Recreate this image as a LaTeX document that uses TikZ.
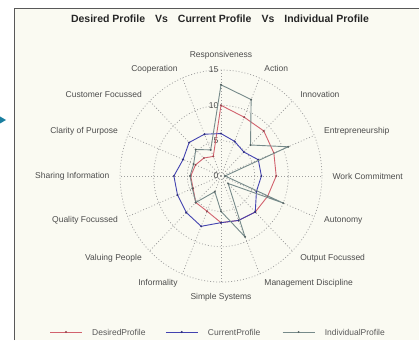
\documentclass[tikz,border=0pt]{standalone}
\usepackage{fontspec}
\setmainfont{Liberation Sans}
\usetikzlibrary{positioning}
\definecolor{paper}{RGB}{250,250,242}
\definecolor{desiredc}{RGB}{210,98,110}
\definecolor{currentc}{RGB}{66,66,176}
\definecolor{individualc}{RGB}{118,138,138}
\definecolor{pointer}{RGB}{27,127,160}
\newcommand{\radarprofile}[3]{%
  \draw[draw=#1, line width=0.9pt] (90:#2) \foreach \v [count=\i] in {#3} { -- ({90-22.5*\i}:\v)} -- cycle;
  \foreach \v [count=\i from 0] in {#2,#3} \fill[#1!70!black] ({90-22.5*\i}:\v) circle (1.1pt);
}

\begin{document}
\begin{tikzpicture}[x=1pt, y=1pt,
    grid/.style={black!38, line width=0.75pt, dash pattern=on 0.9pt off 2.1pt},
    axislabel/.style={text=black!70, font=\fontsize{8.5}{10}\selectfont, inner sep=1pt},
    legend/.style={text=black!65, font=\fontsize{8.5}{10}\selectfont, inner sep=0pt},
    key/.style={line width=0.9pt}]
  \useasboundingbox (0,0) rectangle (419,340);
  \fill[white] (0,0) rectangle (419,340);
  \fill[paper] (14,0) rectangle (419,332);
  \draw[black!65, line width=0.9pt] (14,0) -- (14,332) -- (419,332);
  \fill[pointer] (0,216.5) -- (6,220) -- (0,223.5) -- cycle;
  \node[font=\fontsize{10.5}{12}\selectfont\bfseries, text=black!85] (title) at (220,321)
    {Desired Profile\hspace{10pt}Vs\hspace{10pt}Current Profile\hspace{10pt}Vs\hspace{10pt}Individual Profile};

  \begin{scope}[shift={(221,164)}, x=6.73pt, y=7.07pt]
    \foreach \r in {5,10,15} \draw[grid] (0,0) circle [radius=\r];
    \foreach \i in {0,...,15} \draw[grid] (0,0) -- ({90-22.5*\i}:15);
    \foreach \r in {0,5,10,15}
      \node[axislabel, anchor=east, xshift=-1.5pt] (tick\r) at (90:\r) {\r};
    \foreach \name/\anc [count=\i from 0] in {Responsiveness/south, Action/west,
        Innovation/west, Entrepreneurship/west, Work Commitment/west, Autonomy/west,
        Output Focussed/west, Management Discipline/west, Simple Systems/north,
        Informality/east, Valuing People/east, Quality Focussed/east,
        Sharing Information/east, Clarity of Purpose/east, Customer Focussed/east,
        Cooperation/east}
      \node[axislabel, anchor=\anc] (lab\i) at ({90-22.5*\i}:16.4) {\name};
    \radarprofile{desiredc}{10}{9,9,8.5,8.2,7.5,7.2,6.8,6.6,5.4,5.3,4.5,4.5,4.1,3.6,3}
    \radarprofile{currentc}{6}{5.3,4.8,6,6,5.7,7.2,6.8,6.6,7.7,7.3,7,7,6.1,6.7,6.4}
    \radarprofile{individualc}{12.9}{11.7,6.2,10.8,0.6,10,1.5,9.3,5,2.4,5.3,4.6,4.6,4.4,5.3,4}
  \end{scope}

  \node[legend, anchor=west] (legdes) at (92,8) {DesiredProfile};
  \node[legend, right=62pt of legdes] (legcur) {CurrentProfile};
  \node[legend, right=64pt of legcur] (legind) {IndividualProfile};
  \foreach \leg/\col in {legdes/desiredc, legcur/currentc, legind/individualc} {
    \draw[key, \col] ([xshift=-42pt]\leg.west) -- ([xshift=-10pt]\leg.west);
    \fill[\col!70!black] ([xshift=-26pt]\leg.west) circle (1.1pt);
  }
\end{tikzpicture}
\end{document}
